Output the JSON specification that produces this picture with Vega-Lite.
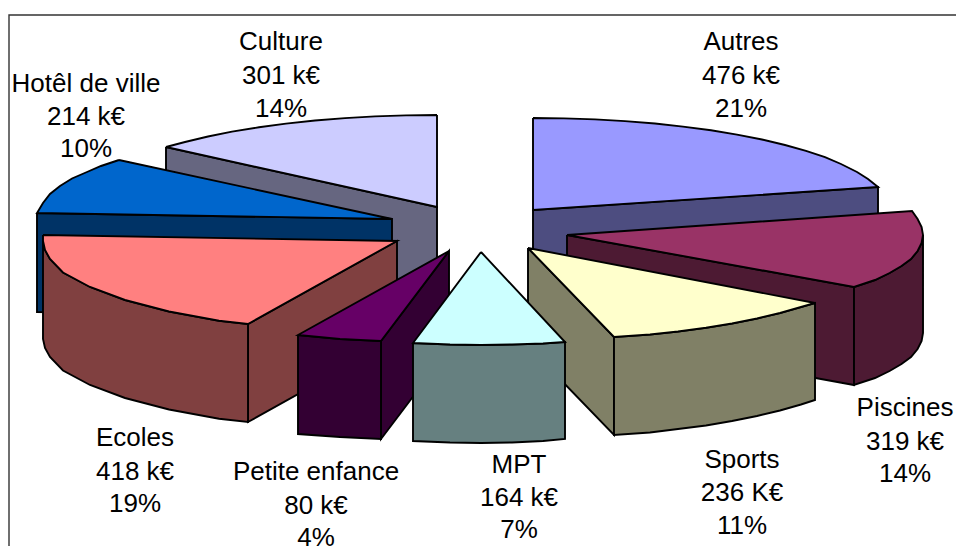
{
"$schema":"https://vega.github.io/schema/vega-lite/v6.json",
"width":956,"height":546,"padding":0,"autosize":"none","background":"white",
"view":{"stroke":null},
"config":{"axis":{"disable":true}},
"layer":[
{"data":{"values":[{"k":"cadre","i":0,"x":9,"y":546},{"k":"cadre","i":1,"x":9,"y":15},{"k":"cadre","i":2,"x":956,"y":15}]},
"mark":{"type":"line","stroke":"#333333","strokeWidth":1.4,"clip":false},
"encoding":{"x":{"field":"x","type":"quantitative","scale":{"domain":[0,956]},"axis":null},"y":{"field":"y","type":"quantitative","scale":{"domain":[546,0]},"axis":null},"order":{"field":"i"},"detail":{"field":"k"}}},
{"data":{"values":[
{"f":"Culture côté","i":0,"x":166,"y":147},{"f":"Culture côté","i":1,"x":437,"y":207},{"f":"Culture côté","i":2,"x":437,"y":304},{"f":"Culture côté","i":3,"x":166,"y":244},{"f":"Culture côté","i":4,"x":166,"y":147},
{"f":"Culture dessus","i":0,"x":437,"y":115},{"f":"Culture dessus","i":1,"x":406,"y":115.4},{"f":"Culture dessus","i":2,"x":375,"y":116.4},{"f":"Culture dessus","i":3,"x":345,"y":118.1},{"f":"Culture dessus","i":4,"x":315,"y":120.5},{"f":"Culture dessus","i":5,"x":286,"y":123.6},{"f":"Culture dessus","i":6,"x":259,"y":127.3},{"f":"Culture dessus","i":7,"x":232,"y":131.6},{"f":"Culture dessus","i":8,"x":208,"y":136.5},{"f":"Culture dessus","i":9,"x":185,"y":142},{"f":"Culture dessus","i":10,"x":166,"y":147},{"f":"Culture dessus","i":11,"x":437,"y":207},{"f":"Culture dessus","i":12,"x":437,"y":115},
{"f":"Autres côté","i":0,"x":533,"y":210},{"f":"Autres côté","i":1,"x":878,"y":187},{"f":"Autres côté","i":2,"x":878,"y":285},{"f":"Autres côté","i":3,"x":533,"y":307},{"f":"Autres côté","i":4,"x":533,"y":210},
{"f":"Autres dessus","i":0,"x":533,"y":118},{"f":"Autres dessus","i":1,"x":564,"y":118.4},{"f":"Autres dessus","i":2,"x":595,"y":119.4},{"f":"Autres dessus","i":3,"x":625,"y":121.1},{"f":"Autres dessus","i":4,"x":655,"y":123.5},{"f":"Autres dessus","i":5,"x":683,"y":126.6},{"f":"Autres dessus","i":6,"x":711,"y":130.3},{"f":"Autres dessus","i":7,"x":737,"y":134.6},{"f":"Autres dessus","i":8,"x":762,"y":139.5},{"f":"Autres dessus","i":9,"x":785,"y":145},{"f":"Autres dessus","i":10,"x":806,"y":150.9},{"f":"Autres dessus","i":11,"x":825,"y":157.2},{"f":"Autres dessus","i":12,"x":841,"y":164},{"f":"Autres dessus","i":13,"x":857,"y":172},{"f":"Autres dessus","i":14,"x":868,"y":179},{"f":"Autres dessus","i":15,"x":878,"y":187},{"f":"Autres dessus","i":16,"x":533,"y":210},{"f":"Autres dessus","i":17,"x":533,"y":118},
{"f":"Hôtel côté","i":0,"x":37,"y":213},{"f":"Hôtel côté","i":1,"x":392,"y":219},{"f":"Hôtel côté","i":2,"x":392,"y":316},{"f":"Hôtel côté","i":3,"x":37,"y":312},{"f":"Hôtel côté","i":4,"x":37,"y":213},
{"f":"Hôtel dessus","i":0,"x":119,"y":160},{"f":"Hôtel dessus","i":1,"x":101,"y":166},{"f":"Hôtel dessus","i":2,"x":87,"y":172},{"f":"Hôtel dessus","i":3,"x":72,"y":178.5},{"f":"Hôtel dessus","i":4,"x":60,"y":186},{"f":"Hôtel dessus","i":5,"x":50,"y":194},{"f":"Hôtel dessus","i":6,"x":43,"y":203},{"f":"Hôtel dessus","i":7,"x":37,"y":213},{"f":"Hôtel dessus","i":8,"x":392,"y":219},{"f":"Hôtel dessus","i":9,"x":119,"y":160},
{"f":"Ecoles flanc","i":0,"x":248,"y":324},{"f":"Ecoles flanc","i":1,"x":397,"y":241},{"f":"Ecoles flanc","i":2,"x":397,"y":339},{"f":"Ecoles flanc","i":3,"x":248,"y":422},{"f":"Ecoles flanc","i":4,"x":248,"y":324},
{"f":"Ecoles bord","i":0,"x":43,"y":235},{"f":"Ecoles bord","i":1,"x":43,"y":241},{"f":"Ecoles bord","i":2,"x":45,"y":250},{"f":"Ecoles bord","i":3,"x":50,"y":259},{"f":"Ecoles bord","i":4,"x":63,"y":272.5},{"f":"Ecoles bord","i":5,"x":90,"y":287},{"f":"Ecoles bord","i":6,"x":125,"y":300},{"f":"Ecoles bord","i":7,"x":169,"y":311.5},{"f":"Ecoles bord","i":8,"x":219,"y":320.7},{"f":"Ecoles bord","i":9,"x":248,"y":324},{"f":"Ecoles bord","i":10,"x":248,"y":422},{"f":"Ecoles bord","i":11,"x":219,"y":418.7},{"f":"Ecoles bord","i":12,"x":169,"y":409.5},{"f":"Ecoles bord","i":13,"x":125,"y":398},{"f":"Ecoles bord","i":14,"x":90,"y":385},{"f":"Ecoles bord","i":15,"x":63,"y":370.5},{"f":"Ecoles bord","i":16,"x":50,"y":357},{"f":"Ecoles bord","i":17,"x":45,"y":348},{"f":"Ecoles bord","i":18,"x":43,"y":339},{"f":"Ecoles bord","i":19,"x":43,"y":235},
{"f":"Ecoles dessus","i":0,"x":43,"y":235},{"f":"Ecoles dessus","i":1,"x":397,"y":241},{"f":"Ecoles dessus","i":2,"x":248,"y":324},{"f":"Ecoles dessus","i":3,"x":219,"y":320.7},{"f":"Ecoles dessus","i":4,"x":169,"y":311.5},{"f":"Ecoles dessus","i":5,"x":125,"y":300},{"f":"Ecoles dessus","i":6,"x":90,"y":287},{"f":"Ecoles dessus","i":7,"x":63,"y":272.5},{"f":"Ecoles dessus","i":8,"x":50,"y":259},{"f":"Ecoles dessus","i":9,"x":45,"y":250},{"f":"Ecoles dessus","i":10,"x":43,"y":241},{"f":"Ecoles dessus","i":11,"x":43,"y":235},
{"f":"Piscines flanc","i":0,"x":567,"y":235},{"f":"Piscines flanc","i":1,"x":854,"y":287},{"f":"Piscines flanc","i":2,"x":854,"y":385},{"f":"Piscines flanc","i":3,"x":567,"y":333},{"f":"Piscines flanc","i":4,"x":567,"y":235},
{"f":"Piscines bord","i":0,"x":923,"y":235},{"f":"Piscines bord","i":1,"x":921.6,"y":243},{"f":"Piscines bord","i":2,"x":917.6,"y":251},{"f":"Piscines bord","i":3,"x":911,"y":259},{"f":"Piscines bord","i":4,"x":901.5,"y":266},{"f":"Piscines bord","i":5,"x":889.6,"y":273},{"f":"Piscines bord","i":6,"x":875,"y":280},{"f":"Piscines bord","i":7,"x":854,"y":287},{"f":"Piscines bord","i":8,"x":854,"y":385},{"f":"Piscines bord","i":9,"x":875,"y":378},{"f":"Piscines bord","i":10,"x":889.6,"y":371},{"f":"Piscines bord","i":11,"x":901.5,"y":364},{"f":"Piscines bord","i":12,"x":911,"y":357},{"f":"Piscines bord","i":13,"x":917.6,"y":349},{"f":"Piscines bord","i":14,"x":921.6,"y":341},{"f":"Piscines bord","i":15,"x":923,"y":333},{"f":"Piscines bord","i":16,"x":923,"y":235},
{"f":"Piscines dessus","i":0,"x":567,"y":235},{"f":"Piscines dessus","i":1,"x":912,"y":211},{"f":"Piscines dessus","i":2,"x":917.6,"y":219},{"f":"Piscines dessus","i":3,"x":921.6,"y":227},{"f":"Piscines dessus","i":4,"x":923,"y":235},{"f":"Piscines dessus","i":5,"x":921.6,"y":243},{"f":"Piscines dessus","i":6,"x":917.6,"y":251},{"f":"Piscines dessus","i":7,"x":911,"y":259},{"f":"Piscines dessus","i":8,"x":901.5,"y":266},{"f":"Piscines dessus","i":9,"x":889.6,"y":273},{"f":"Piscines dessus","i":10,"x":875,"y":280},{"f":"Piscines dessus","i":11,"x":854,"y":287},{"f":"Piscines dessus","i":12,"x":567,"y":235},
{"f":"Petite flanc","i":0,"x":381,"y":341},{"f":"Petite flanc","i":1,"x":449,"y":251},{"f":"Petite flanc","i":2,"x":449,"y":349},{"f":"Petite flanc","i":3,"x":381,"y":439},{"f":"Petite flanc","i":4,"x":381,"y":341},
{"f":"Petite bord","i":0,"x":298,"y":335},{"f":"Petite bord","i":1,"x":340,"y":339},{"f":"Petite bord","i":2,"x":381,"y":341},{"f":"Petite bord","i":3,"x":381,"y":439},{"f":"Petite bord","i":4,"x":340,"y":437},{"f":"Petite bord","i":5,"x":298,"y":434},{"f":"Petite bord","i":6,"x":298,"y":335},
{"f":"Petite dessus","i":0,"x":449,"y":251},{"f":"Petite dessus","i":1,"x":298,"y":335},{"f":"Petite dessus","i":2,"x":340,"y":339},{"f":"Petite dessus","i":3,"x":381,"y":341},{"f":"Petite dessus","i":4,"x":449,"y":251},
{"f":"Sports flanc","i":0,"x":528,"y":248},{"f":"Sports flanc","i":1,"x":614,"y":337},{"f":"Sports flanc","i":2,"x":614,"y":435},{"f":"Sports flanc","i":3,"x":528,"y":346},{"f":"Sports flanc","i":4,"x":528,"y":248},
{"f":"Sports bord","i":0,"x":614,"y":337},{"f":"Sports bord","i":1,"x":650,"y":334.5},{"f":"Sports bord","i":2,"x":678,"y":331.5},{"f":"Sports bord","i":3,"x":706,"y":327.7},{"f":"Sports bord","i":4,"x":732,"y":323.5},{"f":"Sports bord","i":5,"x":757,"y":318.5},{"f":"Sports bord","i":6,"x":780,"y":313},{"f":"Sports bord","i":7,"x":801,"y":307},{"f":"Sports bord","i":8,"x":815,"y":303},{"f":"Sports bord","i":9,"x":815,"y":400},{"f":"Sports bord","i":10,"x":801,"y":404.5},{"f":"Sports bord","i":11,"x":780,"y":410.5},{"f":"Sports bord","i":12,"x":757,"y":416},{"f":"Sports bord","i":13,"x":732,"y":421},{"f":"Sports bord","i":14,"x":706,"y":425.5},{"f":"Sports bord","i":15,"x":678,"y":429},{"f":"Sports bord","i":16,"x":650,"y":432.5},{"f":"Sports bord","i":17,"x":614,"y":435},{"f":"Sports bord","i":18,"x":614,"y":337},
{"f":"Sports dessus","i":0,"x":528,"y":248},{"f":"Sports dessus","i":1,"x":815,"y":303},{"f":"Sports dessus","i":2,"x":801,"y":307},{"f":"Sports dessus","i":3,"x":780,"y":313},{"f":"Sports dessus","i":4,"x":757,"y":318.5},{"f":"Sports dessus","i":5,"x":732,"y":323.5},{"f":"Sports dessus","i":6,"x":706,"y":327.7},{"f":"Sports dessus","i":7,"x":678,"y":331.5},{"f":"Sports dessus","i":8,"x":650,"y":334.5},{"f":"Sports dessus","i":9,"x":614,"y":337},{"f":"Sports dessus","i":10,"x":528,"y":248},
{"f":"MPT bord","i":0,"x":413,"y":343},{"f":"MPT bord","i":1,"x":450,"y":344.5},{"f":"MPT bord","i":2,"x":481,"y":345},{"f":"MPT bord","i":3,"x":512,"y":344.5},{"f":"MPT bord","i":4,"x":543,"y":343.5},{"f":"MPT bord","i":5,"x":565,"y":342},{"f":"MPT bord","i":6,"x":565,"y":439},{"f":"MPT bord","i":7,"x":543,"y":441},{"f":"MPT bord","i":8,"x":512,"y":442.5},{"f":"MPT bord","i":9,"x":481,"y":443},{"f":"MPT bord","i":10,"x":450,"y":442.5},{"f":"MPT bord","i":11,"x":413,"y":441},{"f":"MPT bord","i":12,"x":413,"y":343},
{"f":"MPT dessus","i":0,"x":481,"y":252},{"f":"MPT dessus","i":1,"x":413,"y":343},{"f":"MPT dessus","i":2,"x":450,"y":344.5},{"f":"MPT dessus","i":3,"x":481,"y":345},{"f":"MPT dessus","i":4,"x":512,"y":344.5},{"f":"MPT dessus","i":5,"x":543,"y":343.5},{"f":"MPT dessus","i":6,"x":565,"y":342},{"f":"MPT dessus","i":7,"x":481,"y":252}
]},
"mark":{"type":"line","stroke":"#000000","strokeWidth":1.9,"strokeJoin":"miter","clip":false},
"encoding":{"x":{"field":"x","type":"quantitative","scale":{"domain":[0,956]},"axis":null},"y":{"field":"y","type":"quantitative","scale":{"domain":[546,0]},"axis":null},"order":{"field":"i"},
"fill":{"field":"f","type":"nominal","legend":null,"scale":{
"domain":["Culture côté","Culture dessus","Autres côté","Autres dessus","Hôtel côté","Hôtel dessus","Ecoles flanc","Ecoles bord","Ecoles dessus","Piscines flanc","Piscines bord","Piscines dessus","Petite flanc","Petite bord","Petite dessus","Sports flanc","Sports bord","Sports dessus","MPT bord","MPT dessus"],
"range":["#666680","#CCCCFF","#4D4D80","#9999FF","#003366","#0066CC","#804040","#804040","#FF8080","#4D1A33","#4D1A33","#993366","#330033","#330033","#660066","#808066","#808066","#FFFFCC","#668080","#CCFFFF"]}}}},
{"data":{"values":[
{"t":"Culture","x":281,"y":50},{"t":"301 k€","x":281,"y":84},{"t":"14%","x":281,"y":117},
{"t":"Hotêl de ville","x":86,"y":92},{"t":"214 k€","x":86,"y":125},{"t":"10%","x":86,"y":157},
{"t":"Autres","x":741,"y":50},{"t":"476 k€","x":741,"y":84},{"t":"21%","x":741,"y":117},
{"t":"Piscines","x":905,"y":416},{"t":"319 k€","x":905,"y":450},{"t":"14%","x":905,"y":482},
{"t":"Sports","x":742,"y":468},{"t":"236 K€","x":742,"y":501},{"t":"11%","x":742,"y":534},
{"t":"MPT","x":519,"y":473},{"t":"164 k€","x":519,"y":506},{"t":"7%","x":519,"y":538},
{"t":"Petite enfance","x":316,"y":480},{"t":"80 k€","x":316,"y":514},{"t":"4%","x":316,"y":546},
{"t":"Ecoles","x":135,"y":446},{"t":"418 k€","x":135,"y":480},{"t":"19%","x":135,"y":512}
]},
"mark":{"type":"text","font":"Liberation Sans","fontSize":26,"baseline":"alphabetic","align":"center","color":"#000000","clip":false},
"encoding":{"x":{"field":"x","type":"quantitative","scale":{"domain":[0,956]},"axis":null},"y":{"field":"y","type":"quantitative","scale":{"domain":[546,0]},"axis":null},"text":{"field":"t","type":"nominal"}}}
]}
